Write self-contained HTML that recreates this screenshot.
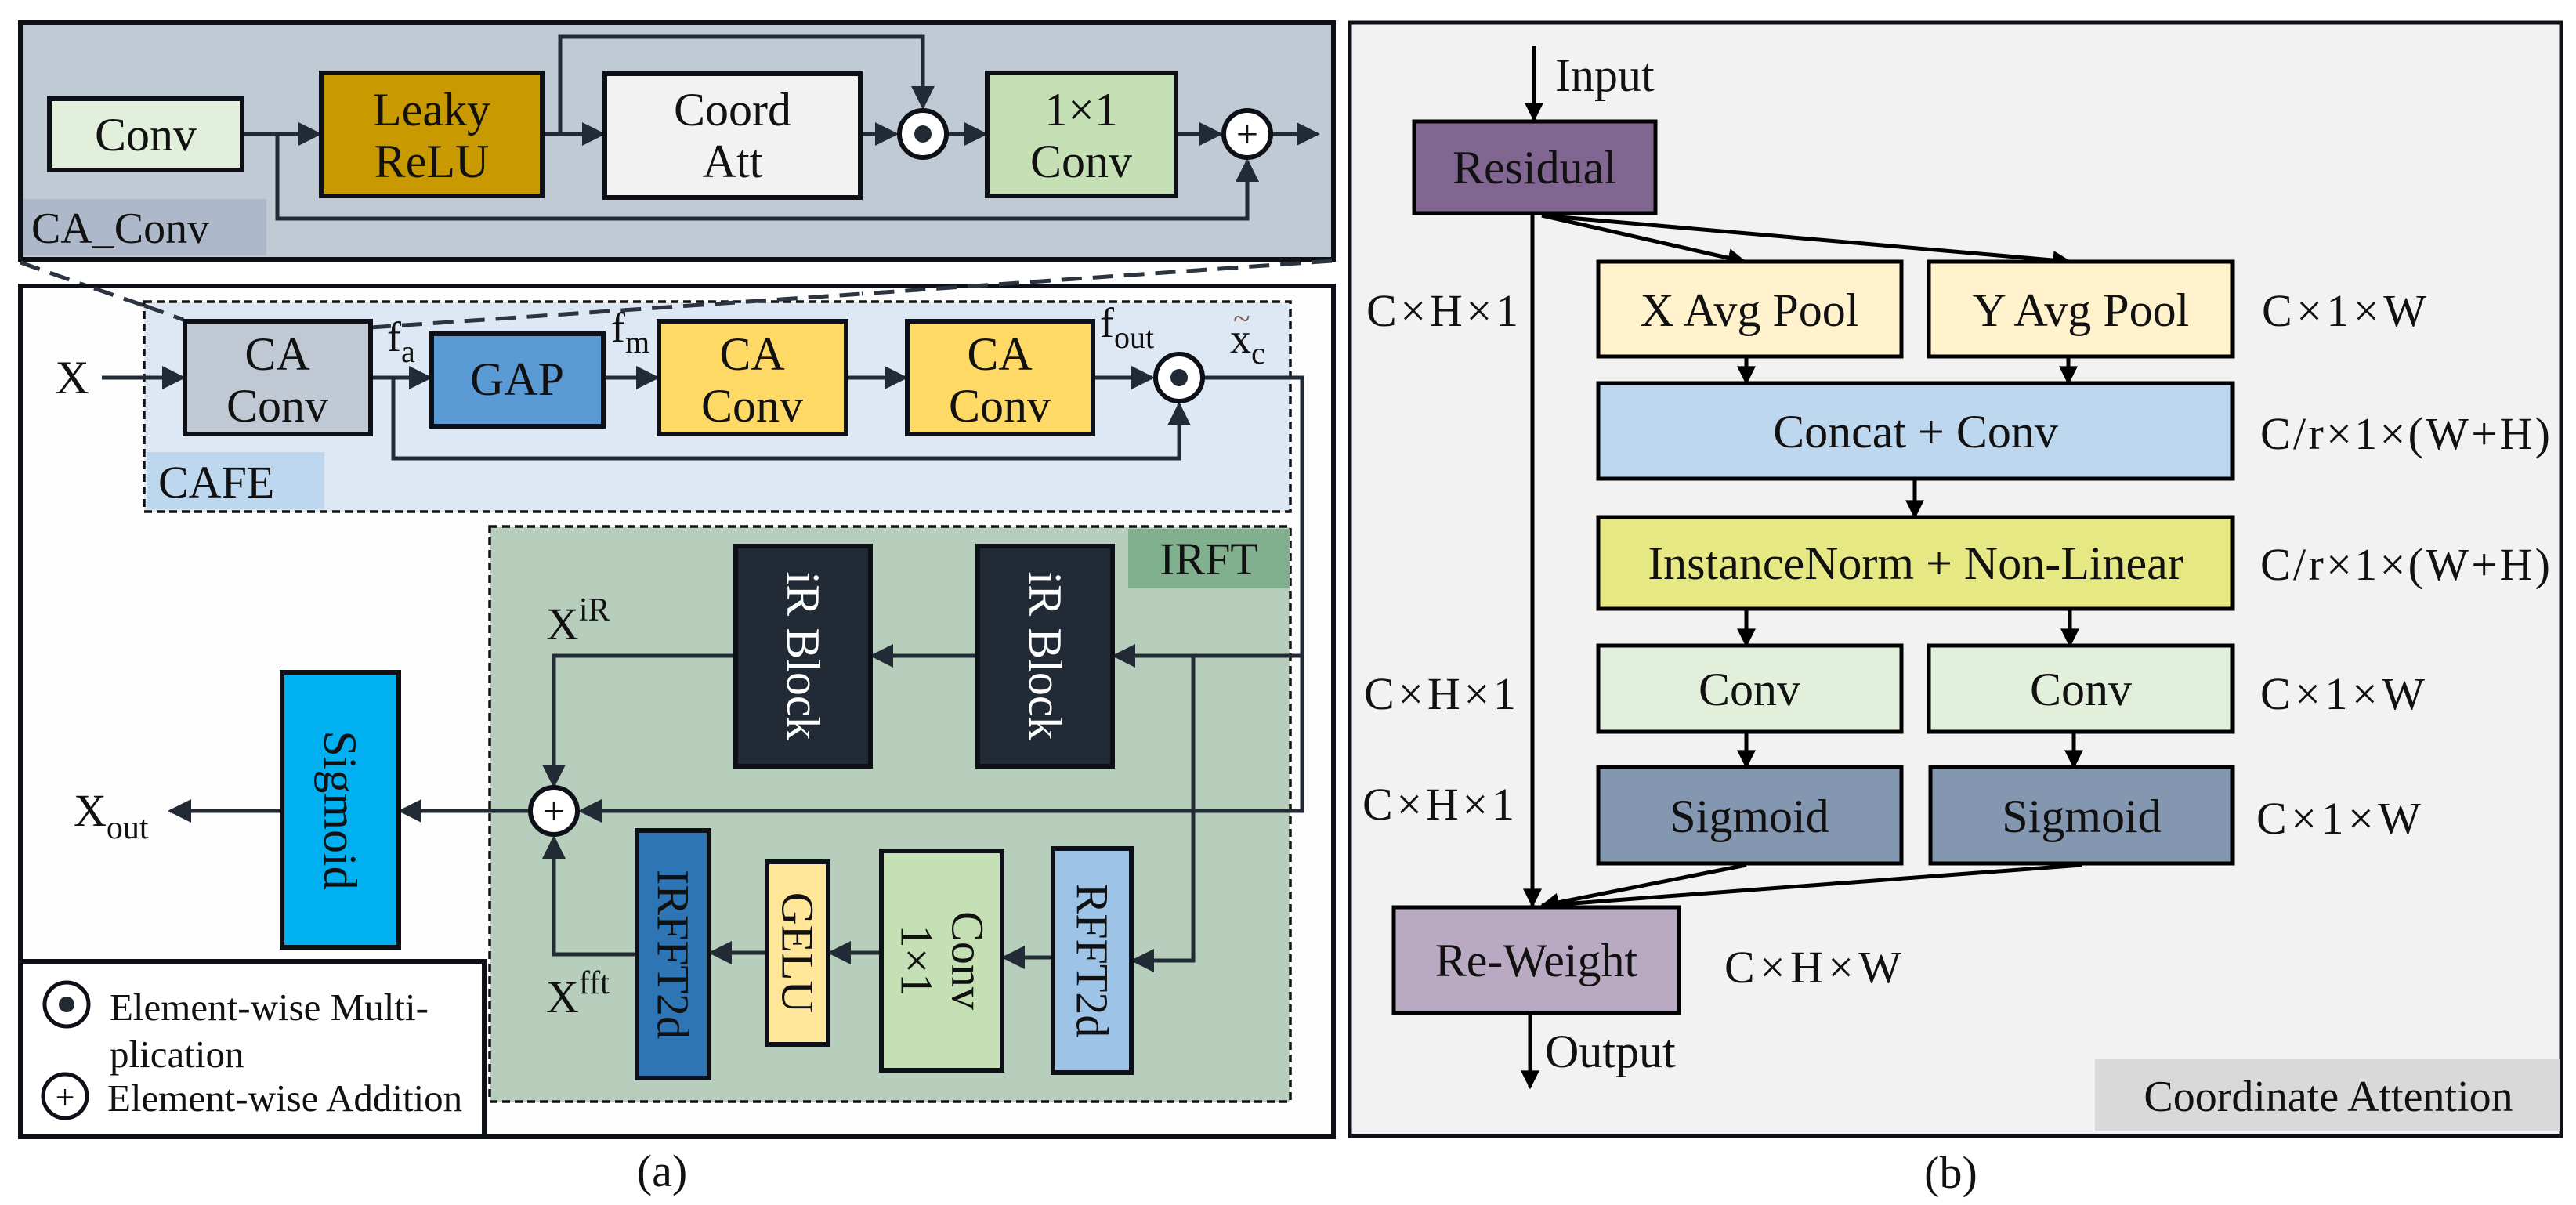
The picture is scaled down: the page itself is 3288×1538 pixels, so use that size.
<!DOCTYPE html>
<html><head><meta charset="utf-8"><style>
html,body{margin:0;padding:0;background:#fff}
svg{display:block}
svg text{font-family:"Liberation Serif","Noto Serif CJK SC","DejaVu Serif",serif}
</style></head><body>
<svg width="3288" height="1538" viewBox="0 0 3288 1538" xmlns="http://www.w3.org/2000/svg">
<defs>
<marker id="ad" viewBox="0 0 10 10" refX="9" refY="5" markerWidth="30" markerHeight="30" markerUnits="userSpaceOnUse" orient="auto"><path d="M0,0L10,5L0,10z" fill="#222a35"/></marker>
<marker id="ab" viewBox="0 0 10 10" refX="9" refY="5" markerWidth="28" markerHeight="24" markerUnits="userSpaceOnUse" orient="auto"><path d="M0,0L10,5L0,10z" fill="#000"/></marker>
</defs>
<g fill="#111">

<rect x="26" y="29" width="1676" height="302" fill="#c0cad5" stroke="#0d1117" stroke-width="6"/>
<rect x="29" y="254" width="311" height="72" fill="#adb9ca"/>
<text x="40" y="310" font-size="56">CA_Conv</text>
<g stroke="#222a35" stroke-width="5" fill="none">
<line x1="309" y1="171" x2="408" y2="171" marker-end="url(#ad)"/>
<line x1="692" y1="171" x2="770" y2="171" marker-end="url(#ad)"/>
<polyline points="715,171 715,47 1178,47 1178,137" marker-end="url(#ad)"/>
<line x1="1098" y1="171" x2="1144" y2="171" marker-end="url(#ad)"/>
<line x1="1210" y1="171" x2="1258" y2="171" marker-end="url(#ad)"/>
<line x1="1501" y1="171" x2="1558" y2="171" marker-end="url(#ad)"/>
<line x1="1624" y1="171" x2="1682" y2="171" marker-end="url(#ad)"/>
<polyline points="354,171 354,279 1592,279 1592,205" marker-end="url(#ad)"/>
</g>
<rect x="63" y="126" width="246" height="91" fill="#e2efda" stroke="#0d1117" stroke-width="6"/>
<text x="186" y="192" font-size="60" text-anchor="middle">Conv</text>
<rect x="410" y="93" width="282" height="157" fill="#c99a00" stroke="#0d1117" stroke-width="6"/>
<text x="551" y="160" font-size="60" text-anchor="middle">Leaky</text>
<text x="551" y="226" font-size="60" text-anchor="middle">ReLU</text>
<rect x="772" y="94" width="326" height="158" fill="#f2f2f2" stroke="#0d1117" stroke-width="6"/>
<text x="935" y="160" font-size="60" text-anchor="middle">Coord</text>
<text x="935" y="226" font-size="60" text-anchor="middle">Att</text>
<rect x="1260" y="93" width="241" height="157" fill="#c5e0b4" stroke="#0d1117" stroke-width="6"/>
<text x="1380" y="160" font-size="60" text-anchor="middle">1×1</text>
<text x="1380" y="226" font-size="60" text-anchor="middle">Conv</text>
<circle cx="1178" cy="171" r="30" fill="#fff" stroke="#0d1117" stroke-width="6"/>
<circle cx="1178" cy="171" r="11" fill="#222a35"/>
<circle cx="1592" cy="171" r="30" fill="#fff" stroke="#0d1117" stroke-width="6"/>
<text x="1592" y="188" font-size="50" text-anchor="middle">+</text>

<line x1="26" y1="335" x2="234" y2="408" stroke="#2b3440" stroke-width="5" stroke-dasharray="26,14"/>

<rect x="26" y="365" width="1676" height="1086" fill="#fdfdfd" stroke="#0d1117" stroke-width="6"/>
<line x1="1700" y1="333" x2="1100" y2="375" stroke="#2b3440" stroke-width="5" stroke-dasharray="26,14"/>
<line x1="120" y1="368" x2="184" y2="390" stroke="#2b3440" stroke-width="5" stroke-dasharray="26,14"/>
<rect x="184" y="385" width="1463" height="268" fill="#dee8f4" stroke="#111" stroke-width="3.5" stroke-dasharray="10,6"/>
<line x1="473" y1="418" x2="1100" y2="375" stroke="#2b3440" stroke-width="5" stroke-dasharray="26,14"/>
<line x1="184" y1="390" x2="234" y2="408" stroke="#2b3440" stroke-width="5" stroke-dasharray="26,14"/>
<rect x="187" y="577" width="227" height="73" fill="#bdd7ee"/>
<text x="202" y="635" font-size="58">CAFE</text>
<rect x="625" y="672" width="1022" height="734" fill="#b7cebd" stroke="#111" stroke-width="3.5" stroke-dasharray="10,6"/>
<rect x="1440" y="675" width="206" height="76" fill="#81b08f"/>
<text x="1543" y="733" font-size="58" text-anchor="middle">IRFT</text>

<g stroke="#222a35" stroke-width="5" fill="none">
<line x1="130" y1="482" x2="234" y2="482" marker-end="url(#ad)"/>
<line x1="473" y1="482" x2="549" y2="482" marker-end="url(#ad)"/>
<line x1="770" y1="482" x2="839" y2="482" marker-end="url(#ad)"/>
<line x1="1080" y1="482" x2="1156" y2="482" marker-end="url(#ad)"/>
<line x1="1395" y1="482" x2="1471" y2="482" marker-end="url(#ad)"/>
<polyline points="502,482 502,585 1505,585 1505,516" marker-end="url(#ad)"/>
<polyline points="1537,482 1662,482 1662,1035 741,1035" marker-end="url(#ad)"/>
<polyline points="1662,837 1523,837 1523,1226 1446,1226"/>
<line x1="1523" y1="837" x2="1422" y2="837" marker-end="url(#ad)"/>
<line x1="1248" y1="837" x2="1113" y2="837" marker-end="url(#ad)"/>
<polyline points="939,837 707,837 707,1003" marker-end="url(#ad)"/>
<line x1="1523" y1="1226" x2="1446" y2="1226" marker-end="url(#ad)"/>
<line x1="1344" y1="1222" x2="1281" y2="1222" marker-end="url(#ad)"/>
<line x1="1125" y1="1216" x2="1059" y2="1216" marker-end="url(#ad)"/>
<line x1="979" y1="1216" x2="907" y2="1216" marker-end="url(#ad)"/>
<polyline points="813,1218 707,1218 707,1069" marker-end="url(#ad)"/>
<line x1="675" y1="1035" x2="511" y2="1035" marker-end="url(#ad)"/>
<line x1="360" y1="1035" x2="217" y2="1035" marker-end="url(#ad)"/>
</g>
<text x="92" y="502" font-size="60" text-anchor="middle">X</text>
<rect x="236" y="410" width="237" height="144" fill="#c0c9d3" stroke="#0d1117" stroke-width="6"/>
<text x="354" y="472" font-size="60" text-anchor="middle">CA</text>
<text x="354" y="538" font-size="60" text-anchor="middle">Conv</text>
<rect x="551" y="426" width="219" height="118" fill="#5b9bd5" stroke="#0d1117" stroke-width="6"/>
<text x="660" y="504" font-size="60" text-anchor="middle">GAP</text>
<rect x="841" y="410" width="239" height="144" fill="#ffd966" stroke="#0d1117" stroke-width="6"/>
<text x="960" y="472" font-size="60" text-anchor="middle">CA</text>
<text x="960" y="538" font-size="60" text-anchor="middle">Conv</text>
<rect x="1158" y="410" width="237" height="144" fill="#ffd966" stroke="#0d1117" stroke-width="6"/>
<text x="1276" y="472" font-size="60" text-anchor="middle">CA</text>
<text x="1276" y="538" font-size="60" text-anchor="middle">Conv</text>
<circle cx="1505" cy="482" r="30" fill="#fff" stroke="#0d1117" stroke-width="6"/>
<circle cx="1505" cy="482" r="11" fill="#222a35"/>
<text x="494" y="448" font-size="54">f<tspan font-size="40" dy="14">a</tspan></text>
<text x="780" y="436" font-size="54">f<tspan font-size="40" dy="14">m</tspan></text>
<text x="1404" y="430" font-size="54">f<tspan font-size="40" dy="14">out</tspan></text>
<text x="1570" y="450" font-size="54">x<tspan font-size="40" dy="14">c</tspan></text>
<text x="1574" y="420" font-size="40" fill="#7a5a50">~</text>

<rect x="939" y="697" width="172" height="281" fill="#222a35" stroke="#0d1117" stroke-width="6"/>
<text transform="translate(1025,837) rotate(90)" font-size="60" text-anchor="middle" dominant-baseline="central" fill="#fff">iR Block</text>
<rect x="1248" y="697" width="172" height="281" fill="#222a35" stroke="#0d1117" stroke-width="6"/>
<text transform="translate(1334,837) rotate(90)" font-size="60" text-anchor="middle" dominant-baseline="central" fill="#fff">iR Block</text>
<rect x="360" y="858" width="149" height="351" fill="#00b0f0" stroke="#0d1117" stroke-width="6"/>
<text transform="translate(434,1034) rotate(90)" font-size="60" text-anchor="middle" dominant-baseline="central">Sigmoid</text>
<rect x="813" y="1060" width="92" height="316" fill="#2e75b6" stroke="#0d1117" stroke-width="6"/>
<text transform="translate(859,1218) rotate(90)" font-size="58" text-anchor="middle" dominant-baseline="central">IRFFT2d</text>
<rect x="979" y="1100" width="78" height="233" fill="#ffe699" stroke="#0d1117" stroke-width="6"/>
<text transform="translate(1018,1216) rotate(90)" font-size="58" text-anchor="middle" dominant-baseline="central">GELU</text>
<rect x="1125" y="1086" width="154" height="280" fill="#c5e0b4" stroke="#0d1117" stroke-width="6"/>
<text transform="translate(1235,1226) rotate(90)" font-size="58" text-anchor="middle" dominant-baseline="central">Conv</text>
<text transform="translate(1170,1226) rotate(90)" font-size="58" text-anchor="middle" dominant-baseline="central">1×1</text>
<rect x="1344" y="1083" width="100" height="286" fill="#9dc3e6" stroke="#0d1117" stroke-width="6"/>
<text transform="translate(1394,1226) rotate(90)" font-size="58" text-anchor="middle" dominant-baseline="central">RFFT2d</text>
<circle cx="707" cy="1035" r="30" fill="#fff" stroke="#0d1117" stroke-width="6"/>
<text x="707" y="1052" font-size="50" text-anchor="middle">+</text>
<text x="697" y="816" font-size="58">X<tspan font-size="42" dy="-24">iR</tspan></text>
<text x="697" y="1292" font-size="58">X<tspan font-size="42" dy="-24">fft</tspan></text>
<text x="94" y="1054" font-size="58">X<tspan font-size="42" dy="16">out</tspan></text>

<rect x="26" y="1227" width="592" height="224" fill="#fff" stroke="#0d1117" stroke-width="6"/>
<circle cx="85" cy="1282" r="28" fill="#fff" stroke="#0d1117" stroke-width="5"/>
<circle cx="85" cy="1282" r="10" fill="#222a35"/>
<text x="140" y="1302" font-size="49">Element-wise Multi-</text>
<text x="140" y="1362" font-size="49">plication</text>
<circle cx="83" cy="1399" r="28" fill="#fff" stroke="#0d1117" stroke-width="5"/>
<text x="83" y="1415" font-size="44" text-anchor="middle">+</text>
<text x="137" y="1418" font-size="49">Element-wise Addition</text>
<text x="845" y="1514" font-size="58" text-anchor="middle">(a)</text>

<rect x="1723" y="29" width="1546" height="1421" fill="#f2f2f2" stroke="#0d1117" stroke-width="5"/>
<rect x="2674" y="1352" width="594" height="92" fill="#d9d9d9"/>
<text x="2972" y="1418" font-size="56" text-anchor="middle">Coordinate Attention</text>
<g stroke="#000" stroke-width="5" fill="none">
<line x1="1958" y1="59" x2="1958" y2="153" marker-end="url(#ab)"/>
<line x1="1956" y1="272" x2="1956" y2="1156" marker-end="url(#ab)"/>
<line x1="1968" y1="275" x2="2227" y2="334" marker-end="url(#ab)"/>
<line x1="1968" y1="275" x2="2642" y2="334" marker-end="url(#ab)"/>
<line x1="2229" y1="455" x2="2229" y2="489" marker-end="url(#ab)"/>
<line x1="2640" y1="455" x2="2640" y2="489" marker-end="url(#ab)"/>
<line x1="2444" y1="611" x2="2444" y2="660" marker-end="url(#ab)"/>
<line x1="2229" y1="777" x2="2229" y2="824" marker-end="url(#ab)"/>
<line x1="2642" y1="777" x2="2642" y2="824" marker-end="url(#ab)"/>
<line x1="2229" y1="934" x2="2229" y2="979" marker-end="url(#ab)"/>
<line x1="2647" y1="934" x2="2647" y2="979" marker-end="url(#ab)"/>
<line x1="2229" y1="1104" x2="1968" y2="1156" marker-end="url(#ab)"/>
<line x1="2657" y1="1104" x2="1968" y2="1156" marker-end="url(#ab)"/>
<line x1="1953" y1="1293" x2="1953" y2="1388" marker-end="url(#ab)"/>
</g>
<text x="1985" y="116" font-size="60">Input</text>
<text x="1972" y="1362" font-size="60">Output</text>
<rect x="1805" y="155" width="308" height="117" fill="#806691" stroke="#000" stroke-width="5"/>
<text x="1959" y="234" font-size="60" text-anchor="middle">Residual</text>
<rect x="2040" y="334" width="387" height="121" fill="#fff2cc" stroke="#000" stroke-width="5"/>
<text x="2233" y="416" font-size="60" text-anchor="middle">X Avg Pool</text>
<rect x="2462" y="334" width="388" height="121" fill="#fff2cc" stroke="#000" stroke-width="5"/>
<text x="2656" y="416" font-size="60" text-anchor="middle">Y Avg Pool</text>
<rect x="2040" y="489" width="810" height="122" fill="#bdd7ee" stroke="#000" stroke-width="5"/>
<text x="2445" y="571" font-size="60" text-anchor="middle">Concat + Conv</text>
<rect x="2040" y="660" width="810" height="117" fill="#e6e884" stroke="#000" stroke-width="5"/>
<text x="2445" y="739" font-size="60" text-anchor="middle">InstanceNorm + Non-Linear</text>
<rect x="2040" y="824" width="387" height="110" fill="#e2efda" stroke="#000" stroke-width="5"/>
<text x="2233" y="900" font-size="60" text-anchor="middle">Conv</text>
<rect x="2462" y="824" width="388" height="110" fill="#e2efda" stroke="#000" stroke-width="5"/>
<text x="2656" y="900" font-size="60" text-anchor="middle">Conv</text>
<rect x="2040" y="979" width="387" height="123" fill="#8497b0" stroke="#000" stroke-width="5"/>
<text x="2233" y="1062" font-size="60" text-anchor="middle">Sigmoid</text>
<rect x="2464" y="979" width="386" height="123" fill="#8497b0" stroke="#000" stroke-width="5"/>
<text x="2657" y="1062" font-size="60" text-anchor="middle">Sigmoid</text>
<rect x="1779" y="1158" width="364" height="135" fill="#baa9c2" stroke="#000" stroke-width="5"/>
<text x="1961" y="1246" font-size="60" text-anchor="middle">Re-Weight</text>
<g font-size="58">
<text x="1744" y="416" textLength="194">C×H×1</text>
<text x="1741" y="905" textLength="194">C×H×1</text>
<text x="1739" y="1046" textLength="194">C×H×1</text>
<text x="2887" y="416" textLength="210">C×1×W</text>
<text x="2885" y="905" textLength="210">C×1×W</text>
<text x="2880" y="1064" textLength="210">C×1×W</text>
<text x="2885" y="573" textLength="370">C/r×1×(W+H)</text>
<text x="2885" y="740" textLength="370">C/r×1×(W+H)</text>
<text x="2201" y="1254" textLength="226">C×H×W</text>
</g>
<text x="2490" y="1516" font-size="58" text-anchor="middle">(b)</text>
</g>
</svg>
</body></html>
